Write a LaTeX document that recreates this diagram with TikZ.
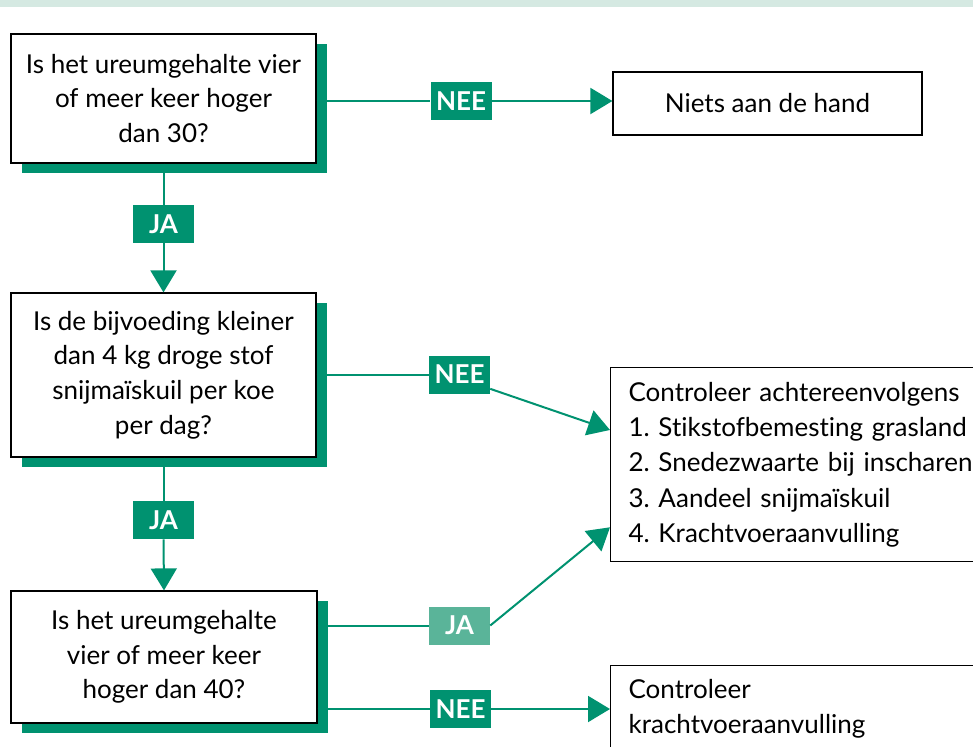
\documentclass[tikz,border=0pt]{standalone}
\usepackage{fontspec}
\setmainfont{Lato}[Ligatures=NoCommon]
\frenchspacing
\usetikzlibrary{arrows.meta,shadows}
\definecolor{groen}{RGB}{0,146,112}
\definecolor{lichtgroen}{RGB}{90,180,153}
\definecolor{balk}{RGB}{213,233,226}
\tikzset{%
  vraag/.style={draw=black,line width=0.9pt,fill=white,align=center,
    inner sep=0pt,font=\fontsize{19.5}{26}\selectfont,
    drop shadow={fill=groen,opacity=1,shadow xshift=8pt,shadow yshift=-7.5pt}},
  uitkomst/.style={draw=black,line width=0.9pt,fill=white,inner sep=0pt,
    font=\fontsize{19.5}{26.5}\selectfont},
  antw/.style={fill=groen,text=white,inner sep=0pt,minimum width=45.75pt,
    minimum height=28.5pt,font=\bfseries\fontsize{19.5}{22}\selectfont},
  antw licht/.style={antw,fill=lichtgroen},
  lijn/.style={draw=groen,line width=1.5pt},
  pijl/.style={lijn,-{Triangle[length=16.5pt,width=19.5pt]}},
}

\begin{document}
\begin{tikzpicture}[x=0.75pt,y=-0.75pt]
  \clip (0,0) rectangle (973,746);
  \fill[balk] (0,0) rectangle (973,7);
  % vragen
  \node[vraag,minimum width=228.75pt,minimum height=96.75pt] (vraag1) at (163.5,98.5)
    {Is het ureumgehalte vier\\of meer keer hoger\\dan 30?};
  \node[vraag,minimum width=228.75pt,minimum height=123pt] (vraag2) at (163.5,375)
    {Is de bijvoeding kleiner\\dan 4 kg droge stof\\snijmaïskuil per koe\\per dag?};
  \node[vraag,minimum width=229.5pt,minimum height=99pt] (vraag3) at (164,657)
    {Is het ureumgehalte\\vier of meer keer\\hoger dan 40?};
  % uitkomsten
  \node[uitkomst,minimum width=231.75pt,minimum height=47.25pt] (niets) at (767.5,103.5)
    {Niets aan de hand};
  \node[uitkomst,anchor=north west,minimum height=145.5pt,text width=300pt,
    inner xsep=13.5pt,align=left] (controle) at (610,367)
    {Controleer achtereenvolgens\\1. Stikstofbemesting grasland\\2. Snedezwaarte bij inscharen\\3. Aandeel snijmaïskuil\\4. Krachtvoeraanvulling};
  \node[uitkomst,anchor=north west,minimum height=64.5pt,text width=300pt,
    inner xsep=13.5pt,align=left] (kracht) at (610,665)
    {Controleer\\krachtvoeraanvulling};
  % antwoorden
  \node[antw] (nee1) at (461,101) {NEE};
  \node[antw] (ja1) at (163.5,224) {JA};
  \node[antw] (nee2) at (459.5,374.5) {NEE};
  \node[antw] (ja2) at (163.5,520) {JA};
  \node[antw licht] (ja3) at (459.5,625.5) {JA};
  \node[antw] (nee3) at (460.5,709) {NEE};
  % verbindingen
  \draw[lijn] (vraag1.east |- nee1) -- (nee1.west);
  \draw[pijl] (nee1.east) -- (nee1.east -| niets.west);
  \draw[lijn] (vraag1.south) -- (ja1.north);
  \draw[pijl] (ja1.south) -- (vraag2.north);
  \draw[lijn] (vraag2.east |- nee2) -- (nee2.west);
  \draw[pijl] (nee2.-25) -- (controle.171);
  \draw[lijn] (vraag2.south) -- (ja2.north);
  \draw[pijl] (ja2.south) -- (vraag3.north);
  \draw[lijn] (vraag3.east |- ja3) -- (ja3.west);
  \draw[pijl] (ja3.east) -- (controle.196);
  \draw[lijn] (vraag3.east |- nee3) -- (nee3.west);
  \draw[pijl] (nee3.east) -- (nee3.east -| kracht.west);
\end{tikzpicture}
\end{document}
